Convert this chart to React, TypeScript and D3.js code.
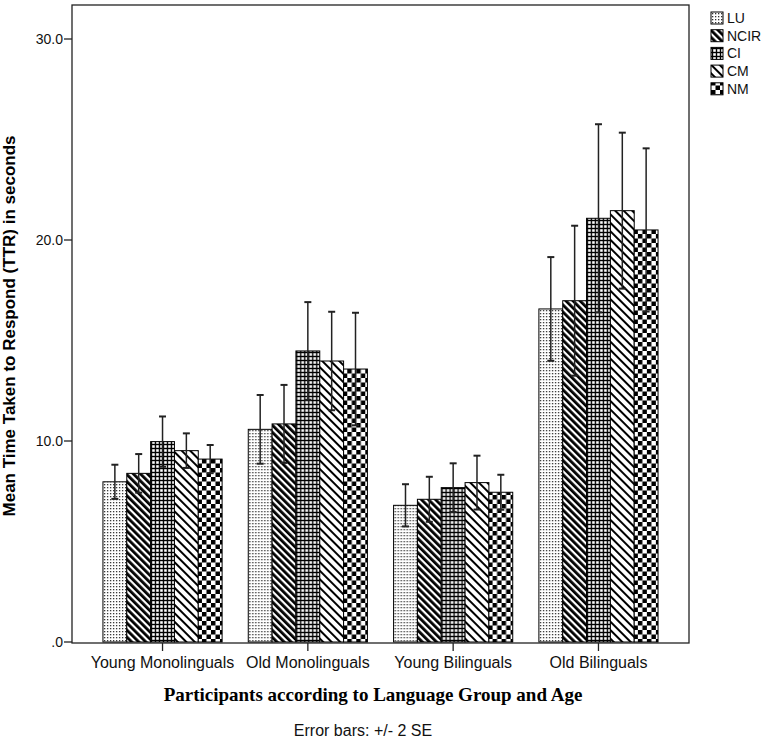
import React from "react";
import * as d3 from "d3";

const categories = ["Young Monolinguals", "Old Monolinguals", "Young Bilinguals", "Old Bilinguals"];
const seriesNames = ["LU", "NCIR", "CI", "CM", "NM"];

const meanLU = [7.97, 10.58, 6.8, 16.57];
const meanNCIR = [8.39, 10.85, 7.1, 16.98];
const meanCI = [9.97, 14.48, 7.68, 21.08];
const meanCM = [9.52, 13.98, 7.93, 21.46];
const meanNM = [9.1, 13.58, 7.45, 20.5];

const errLU = [0.85, 1.71, 1.05, 2.58];
const errNCIR = [0.96, 1.94, 1.12, 3.73];
const errCI = [1.25, 2.43, 1.21, 4.68];
const errCM = [0.86, 2.45, 1.34, 3.88];
const errNM = [0.7, 2.8, 0.87, 4.06];

const yTicks = [0, 10, 20, 30];

const means = [meanLU, meanNCIR, meanCI, meanCM, meanNM];
const errs = [errLU, errNCIR, errCI, errCM, errNM];

const W = 774;
const H = 739;
const frame = { left: 72, right: 689, top: 5, bottom: 643 };

export default function App() {
  const x = d3
    .scaleBand<string>()
    .domain(categories)
    .range([frame.left, frame.right])
    .paddingInner(0.18)
    .paddingOuter(0.213);
  const xs = d3.scaleBand<string>().domain(seriesNames).range([0, x.bandwidth()]).padding(0);
  const y = d3.scaleLinear().domain([0, 30]).range([642, 39]);
  const fmt = (v: number) => (v === 0 ? ".0" : d3.format(".1f")(v));
  const patIds = ["patLU", "patNCIR", "patCI", "patCM", "patNM"];
  const sans = "'Liberation Sans', Arial, sans-serif";
  const capW = 3.5;

  return (
    <svg
      width={W}
      height={H}
      style={{ position: "absolute", left: 0, top: 0, background: "#fff" }}
      fontFamily={sans}
    >
      <defs>
        <pattern id="patLU" patternUnits="userSpaceOnUse" width={3} height={3}>
          <rect width={3} height={3} fill="#fff" />
          <rect x={1} y={1} width={1.3} height={1.3} fill="#333" />
        </pattern>
        <pattern id="patNCIR" patternUnits="userSpaceOnUse" width={5} height={5} patternTransform="rotate(-45)">
          <rect width={5} height={5} fill="#fff" />
          <rect x={0} y={0} width={2.8} height={5} fill="#000" />
        </pattern>
        <pattern id="patCI" patternUnits="userSpaceOnUse" width={4} height={4}>
          <rect width={4} height={4} fill="#000" />
          <rect x={1.2} y={1.2} width={2.6} height={2.6} fill="#fff" />
        </pattern>
        <pattern id="patCM" patternUnits="userSpaceOnUse" width={6} height={6} patternTransform="rotate(-45)">
          <rect width={6} height={6} fill="#fff" />
          <rect x={0} y={0} width={2} height={6} fill="#000" />
        </pattern>
        <pattern id="patNM" patternUnits="userSpaceOnUse" width={9} height={9}>
          <rect width={9} height={9} fill="#fff" />
          <rect x={0} y={0} width={4.5} height={4.5} fill="#000" />
          <rect x={4.5} y={4.5} width={4.5} height={4.5} fill="#000" />
        </pattern>
      </defs>

      {/* bars */}
      {categories.map((c, ci) => (
        <g key={c} transform={`translate(${x(c)},0)`}>
          {seriesNames.map((s, si) => {
            const v = means[si][ci];
            return (
              <rect
                key={s}
                x={xs(s)}
                y={y(v)}
                width={xs.bandwidth()}
                height={y(0) - y(v)}
                fill={`url(#${patIds[si]})`}
                stroke="#000"
                strokeWidth={1}
              />
            );
          })}
        </g>
      ))}

      {/* error bars */}
      {categories.map((c, ci) => (
        <g key={c + "e"} transform={`translate(${x(c)},0)`}>
          {seriesNames.map((s, si) => {
            const v = means[si][ci];
            const e = errs[si][ci];
            const cx = (xs(s) as number) + xs.bandwidth() / 2;
            return (
              <g key={s} stroke="#222">
                <line x1={cx} x2={cx} y1={y(v + e)} y2={y(v - e)} strokeWidth={1.5} />
                <line x1={cx - capW} x2={cx + capW} y1={y(v + e)} y2={y(v + e)} strokeWidth={2} />
                <line x1={cx - capW} x2={cx + capW} y1={y(v - e)} y2={y(v - e)} strokeWidth={2} />
              </g>
            );
          })}
        </g>
      ))}

      {/* frame */}
      <rect
        x={frame.left}
        y={frame.top}
        width={frame.right - frame.left}
        height={frame.bottom - frame.top}
        fill="none"
        stroke="#222"
        strokeWidth={1.3}
      />

      {/* y ticks */}
      {yTicks.map((t) => (
        <g key={t}>
          <line x1={frame.left - 8} x2={frame.left} y1={y(t)} y2={y(t)} stroke="#222" strokeWidth={1.3} />
          <text x={frame.left - 9} y={y(t) + 5} textAnchor="end" fontSize={14} fill="#111">
            {fmt(t)}
          </text>
        </g>
      ))}

      {/* x ticks */}
      {categories.map((c) => {
        const cx = (x(c) as number) + x.bandwidth() / 2;
        return (
          <g key={c + "t"}>
            <line x1={cx} x2={cx} y1={frame.bottom} y2={frame.bottom + 8} stroke="#222" strokeWidth={1.3} />
            <text x={cx} y={668} textAnchor="middle" fontSize={16} fill="#111">
              {c}
            </text>
          </g>
        );
      })}

      {/* axis titles */}
      <text
        transform={`translate(15,326) rotate(-90)`}
        textAnchor="middle"
        fontSize={17}
        fontWeight="bold"
        fill="#000"
      >
        Mean Time Taken to Respond (TTR) in seconds
      </text>
      <text
        x={373}
        y={701}
        textAnchor="middle"
        fontSize={19}
        fontWeight="bold"
        fontFamily="'Liberation Serif', 'Times New Roman', serif"
        fill="#000"
      >
        Participants according to Language Group and Age
      </text>
      <text x={363} y={736} textAnchor="middle" fontSize={16} fill="#111">
        Error bars: +/- 2 SE
      </text>

      {/* legend */}
      {seriesNames.map((s, si) => {
        const cy = 18 + si * 17.7;
        return (
          <g key={s + "l"}>
            <rect x={711} y={cy - 6} width={12} height={12} fill={`url(#${patIds[si]})`} stroke="#000" strokeWidth={1} />
            <text x={727} y={cy + 5} fontSize={14} fill="#111">
              {s}
            </text>
          </g>
        );
      })}
    </svg>
  );
}
